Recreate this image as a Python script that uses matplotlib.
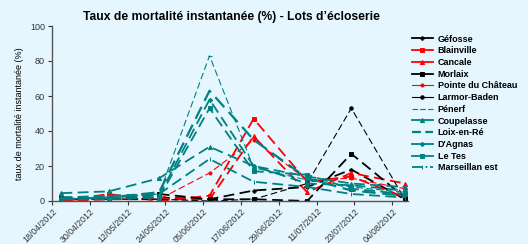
import matplotlib
matplotlib.use("Agg")
import matplotlib.pyplot as plt
from matplotlib.lines import Line2D
import pandas as pd

plt.rcParams['font.family'] = ['Liberation Sans', 'DejaVu Sans']

title = "Taux de mortalité instantanée (%) - Lots d\u2019écloserie"
ylabel = "taux de mortalité instantanée (%)"

dates = ['21/04/2012', '06/05/2012', '22/05/2012', '07/06/2012',
         '21/06/2012', '08/07/2012', '22/07/2012', '08/08/2012']
tick_dates = ['18/04/2012', '30/04/2012', '12/05/2012', '24/05/2012', '05/06/2012',
              '17/06/2012', '29/06/2012', '11/07/2012', '23/07/2012', '04/08/2012']

names = ['Géfosse', 'Blainville', 'Cancale', 'Morlaix', 'Pointe du Château',
         'Larmor-Baden', 'Pénerf', 'Coupelasse', 'Loix-en-Ré', "D'Agnas",
         'Le Tes', 'Marseillan est']

gefosse = [1, 1, 2, 1, 6, 8, 18, 1]
blainville = [0, 4, 0, 3, 47, 11, 14, 2]
cancale = [0, 1, 1, 1, 37, 5, 16, 10]
morlaix = [2, 1, 4, 1, 1, 0, 27, 2]
pointe = [0, 2, 1, 16, 35, 12, 13, 7]
larmor = [1, 1, 1, 0, 1, 10, 53, 1]
penerf = [1, 2, 4, 83, 19, 12, 8, 5]
coupelasse = [4.5, 5.5, 13, 31, 20, 14, 10, 8]
loix = [1, 2, 5, 63, 35, 13, 6, 3]
dagnas = [2, 2, 3, 58, 20, 10, 9, 6]
letes = [1, 1, 2, 53, 17, 15, 7, 4]
marseillan = [2, 3, 4, 24, 11, 8, 4, 2]

series = [gefosse, blainville, cancale, morlaix, pointe, larmor,
          penerf, coupelasse, loix, dagnas, letes, marseillan]

RED = '#FF0000'
TEAL = '#008080'
BLK = '#000000'
colors = [BLK, RED, RED, BLK, RED, BLK, TEAL, TEAL, TEAL, TEAL, TEAL, TEAL]
markers = ['P', 's', '^', 's', 'o', 'o', '_', '^', None, 'D', 's', '|']
msizes = [2.5, 2.5, 3, 2.2, 2.2, 2.5, 2.5, 3, 0, 2.2, 2.2, 2.5]
lwidths = [1.3, 1.3, 1.3, 1.3, 0.8, 0.8, 0.8, 1.3, 1.6, 1.3, 1.3, 1.3]
leg_styles = ['-', '-', '-', '-', '-', '-', (0, (5, 2)), '-', (0, (4, 2)), '-', '-', (0, (6, 1.5, 1, 1.5))]

x = pd.to_datetime(dates, format='%d/%m/%Y')
ticks = pd.to_datetime(tick_dates, format='%d/%m/%Y')

BG = '#E6F6FE'
fig = plt.figure(figsize=(5.28, 2.44), dpi=100, facecolor=BG)
ax = fig.add_axes([52/528, 1-201/244, (408-52)/528, (201-26)/244])
ax.set_facecolor(BG)

for s, c, m, ms, lw in zip(series, colors, markers, msizes, lwidths):
    ax.plot(x, s, color=c, marker=m, markersize=ms, linewidth=lw,
            linestyle=(0, (6, 3)), markeredgewidth=0.7)

ax.set_ylim(0, 100)
ax.set_yticks(range(0, 101, 20))
ax.set_xlim(ticks[0], pd.Timestamp('2012-08-09'))
ax.set_xticks(ticks)
ax.set_xticklabels(tick_dates, rotation=45, ha='right', rotation_mode='anchor')
ax.tick_params(axis='x', labelsize=6.3, colors='#333333', length=3, width=0.8, pad=1)
ax.tick_params(axis='y', labelsize=6.5, colors='#333333', length=3, width=0.8, pad=2)
for side in ['top', 'right']:
    ax.spines[side].set_visible(False)
for side in ['left', 'bottom']:
    ax.spines[side].set_color('#555555')
    ax.spines[side].set_linewidth(1.0)
ax.set_ylabel(ylabel, fontsize=6.5, labelpad=4)
fig.text(231/528, 1-17/244, title, fontsize=8.7, fontweight='bold', ha='center', va='center')

handles = [Line2D([], [], color=c, marker=m, markersize=ms, linewidth=lw, linestyle=ls, markeredgewidth=0.7)
           for c, m, ms, lw, ls in zip(colors, markers, msizes, lwidths, leg_styles)]
leg = fig.legend(handles, names, loc='upper left', bbox_to_anchor=(408/528, 1-31/244),
                 frameon=False, prop={'size': 6.5, 'weight': 'bold'}, handlelength=2.4,
                 labelspacing=0.3, handletextpad=0.5, borderaxespad=0)

fig.savefig('out.png', dpi=100, facecolor=BG)
